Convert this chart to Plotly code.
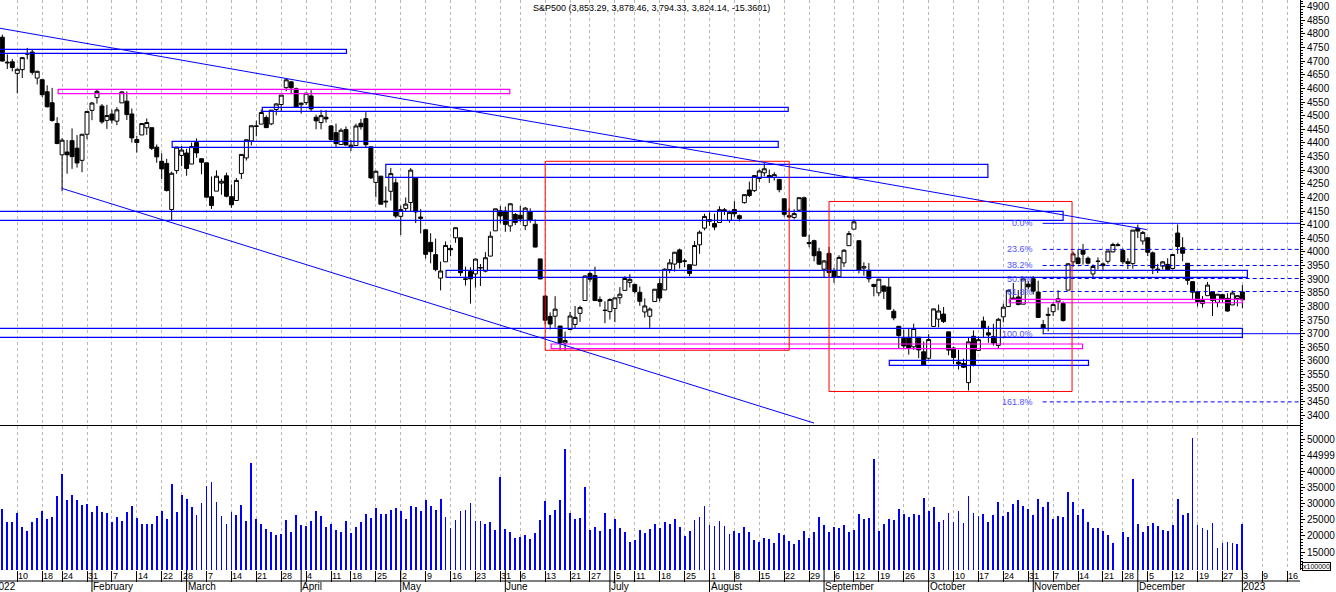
import numpy as np
import pandas as pd
import plotly.graph_objects as go

# exchange closing days inside the window
holidays = ['2022-01-17', '2022-02-21', '2022-04-15', '2022-05-30', '2022-06-20',
            '2022-07-04', '2022-09-05', '2022-11-24', '2022-12-26', '2023-01-02']
trade_days = [d for d in pd.bdate_range('2022-01-03', '2023-01-03')
              if d.strftime('%Y-%m-%d') not in holidays]
future_days = list(pd.bdate_range('2023-01-04', '2023-01-20'))

title_text = 'S&P500 (3,853.29, 3,878.46, 3,794.33, 3,824.14, -15.3601)'

# daily OHLC (Jan 2022 .. Jan 3 2023)
opens = [
    # Jan
    4778.1, 4804.5, 4788.0, 4693.4, 4697.7, 4655.3, 4669.1, 4728.6, 4733.6, 4638.0,
    4632.2, 4588.0, 4547.4, 4471.4, 4356.3, 4366.6, 4408.4, 4380.6, 4336.2, 4431.8,
    # Feb
    4519.6, 4566.4, 4535.4, 4482.8, 4505.8, 4480.0, 4547.0, 4553.2, 4506.3, 4412.6,
    4429.3, 4455.8, 4456.1, 4384.6, 4332.7, 4324.9, 4155.8, 4298.4, 4354.2,
    # Mar
    4363.1, 4322.6, 4401.3, 4342.1, 4327.0, 4202.7, 4223.1, 4252.6, 4279.5, 4202.8,
    4188.8, 4288.1, 4345.1, 4407.3, 4462.4, 4469.1, 4493.1, 4470.0, 4522.9, 4541.1,
    4602.9, 4624.2, 4599.0,
    # Apr
    4540.3, 4548.0, 4572.5, 4494.2, 4474.7, 4494.2, 4462.6, 4437.6, 4394.3, 4449.1,
    4385.6, 4390.6, 4472.3, 4489.2, 4385.8, 4255.3, 4278.1, 4186.5, 4222.6, 4253.8,
    # May
    4130.6, 4159.8, 4181.2, 4270.4, 4128.2, 4081.3, 4035.2, 3990.1, 3904.0, 3963.9,
    4013.0, 4052.0, 4052.0, 3899.0, 3927.8, 3919.4, 3942.9, 3929.6, 3984.6, 4077.4,
    4151.1,
    # Jun
    4149.8, 4095.4, 4137.6, 4134.7, 4096.5, 4147.1, 4101.7, 3974.4, 3838.2, 3763.5,
    3764.1, 3728.2, 3665.9, 3715.3, 3733.9, 3774.7, 3821.8, 3920.8, 3913.0, 3825.1,
    3786.0,
    # Jul
    3781.0, 3792.6, 3832.0, 3858.9, 3888.3, 3880.9, 3852.0, 3779.7, 3764.0, 3818.0,
    3883.8, 3860.7, 3935.3, 3955.5, 4007.5, 3965.7, 3953.2, 3951.4, 4026.1, 4087.3,
    # Aug
    4112.4, 4104.2, 4108.0, 4154.9, 4115.9, 4155.9, 4133.1, 4181.0, 4227.4, 4225.0,
    4269.4, 4290.5, 4280.4, 4273.1, 4266.3, 4195.1, 4133.1, 4126.6, 4153.3, 4198.7,
    4034.6, 4041.3, 4000.7,
    # Sep
    3936.7, 3994.7, 3930.9, 3909.4, 3959.9, 4022.9, 4083.7, 4041.3, 3940.7, 3932.4,
    3880.9, 3849.9, 3875.2, 3871.4, 3782.4, 3727.1, 3682.7, 3686.4, 3651.9, 3687.0,
    3633.5,
    # Oct
    3609.8, 3726.5, 3753.3, 3772.0, 3706.7, 3647.5, 3595.9, 3590.8, 3520.4, 3690.4,
    3638.7, 3746.3, 3703.1, 3689.1, 3657.1, 3762.0, 3799.4, 3826.0, 3834.7, 3808.3,
    3881.9,
    # Nov
    3901.8, 3852.9, 3733.3, 3767.0, 3780.7, 3817.0, 3810.9, 3859.9, 3963.7, 3978.0,
    4006.4, 3976.8, 3919.3, 3966.4, 3956.2, 3965.5, 4000.3, 4023.3, 4005.4, 3964.2,
    3957.2,
    # Dec + Jan 3
    4087.1, 4040.2, 4052.0, 3996.6, 3937.0, 3947.8, 3954.2, 3939.3, 4069.4, 4015.5,
    3958.4, 3890.9, 3853.8, 3810.5, 3839.5, 3853.3, 3815.1, 3843.3, 3829.6, 3805.5,
    3829.1, 3853.3,
]
highs = [
    4796.6, 4818.6, 4797.7, 4725.0, 4708.0, 4673.0, 4714.1, 4748.8, 4744.1, 4665.1,
    4632.2, 4611.6, 4602.1, 4494.5, 4417.4, 4411.0, 4453.2, 4428.7, 4432.7, 4516.9,
    4550.5, 4595.3, 4542.9, 4539.7, 4521.9, 4531.3, 4590.0, 4588.9, 4526.3, 4426.2,
    4472.8, 4489.6, 4456.1, 4394.6, 4362.1, 4341.5, 4294.7, 4385.3, 4388.8,
    4378.5, 4401.5, 4416.8, 4342.1, 4327.0, 4276.9, 4299.4, 4268.3, 4291.0, 4247.6,
    4271.1, 4357.9, 4412.7, 4465.4, 4481.8, 4522.0, 4501.1, 4520.6, 4546.0, 4575.7,
    4637.3, 4627.8, 4603.1,
    4548.7, 4583.5, 4593.5, 4503.9, 4521.2, 4520.4, 4464.4, 4471.0, 4453.9, 4460.5,
    4410.3, 4471.0, 4488.3, 4512.9, 4385.8, 4299.0, 4278.1, 4240.7, 4308.5, 4269.7,
    4169.8, 4200.1, 4307.7, 4270.4, 4157.7, 4081.3, 4068.8, 4049.1, 3964.8, 4038.9,
    4026.2, 4088.4, 4052.0, 3946.0, 3943.4, 3975.9, 3955.7, 3999.3, 4075.1, 4158.5,
    4168.3,
    4166.5, 4177.5, 4142.7, 4168.8, 4164.9, 4160.1, 4119.1, 3974.4, 3838.2, 3778.2,
    3837.6, 3728.2, 3707.7, 3779.7, 3801.8, 3802.6, 3913.7, 3927.7, 3945.9, 3836.5,
    3819.0,
    3829.8, 3832.2, 3870.9, 3910.6, 3918.5, 3880.9, 3873.4, 3829.4, 3796.4, 3863.6,
    3902.4, 3939.8, 3974.1, 3999.3, 4012.4, 3975.3, 3953.2, 4039.6, 4079.0, 4140.2,
    4145.0, 4140.5, 4167.7, 4161.3, 4151.6, 4186.6, 4137.3, 4211.0, 4257.9, 4280.5,
    4301.8, 4325.3, 4302.2, 4292.5, 4266.3, 4195.1, 4159.8, 4156.6, 4200.5, 4203.0,
    4063.0, 4045.0, 4015.4,
    3970.2, 4018.4, 3942.6, 3987.9, 4010.5, 4076.8, 4119.3, 4041.3, 3961.9, 3959.1,
    3880.9, 3900.5, 3876.0, 3907.1, 3790.6, 3727.1, 3715.7, 3717.5, 3736.7, 3687.0,
    3671.4,
    3698.4, 3791.9, 3806.9, 3797.9, 3706.7, 3652.2, 3640.7, 3608.3, 3685.4, 3712.0,
    3689.7, 3762.8, 3728.6, 3736.0, 3757.9, 3810.7, 3862.9, 3886.2, 3860.0, 3905.4,
    3893.7,
    3911.8, 3894.4, 3750.6, 3796.3, 3814.0, 3859.4, 3818.2, 3959.1, 4001.5, 4009.0,
    4028.8, 3983.1, 3954.3, 3979.9, 3962.0, 4003.5, 4033.8, 4034.0, 4012.3, 3976.8,
    4080.1,
    4100.5, 4076.8, 4052.5, 4001.5, 3956.4, 3966.7, 3977.0, 3990.7, 4101.0, 4053.8,
    3958.4, 3890.9, 3854.9, 3838.2, 3889.8, 3853.3, 3845.8, 3846.7, 3848.3, 3858.2,
    3839.9, 3878.5,
]
lows = [
    4758.2, 4774.3, 4699.4, 4671.3, 4662.7, 4582.2, 4638.3, 4706.7, 4650.3, 4614.8,
    4568.7, 4530.2, 4478.0, 4395.3, 4222.6, 4287.1, 4304.8, 4309.5, 4292.5, 4414.0,
    4483.5, 4544.3, 4470.4, 4451.5, 4471.5, 4465.4, 4547.0, 4484.3, 4401.4, 4364.8,
    4429.3, 4429.7, 4373.8, 4327.2, 4267.1, 4221.5, 4114.7, 4286.8, 4315.1,
    4279.5, 4322.6, 4345.6, 4285.0, 4199.9, 4157.9, 4223.1, 4209.8, 4200.5, 4161.7,
    4187.9, 4267.9, 4335.7, 4390.6, 4424.3, 4469.1, 4455.8, 4465.2, 4501.1, 4517.7,
    4589.7, 4581.3, 4530.4,
    4507.6, 4539.2, 4514.2, 4450.0, 4450.3, 4474.6, 4408.4, 4381.3, 4392.7, 4390.8,
    4370.3, 4390.6, 4448.8, 4384.5, 4267.6, 4200.8, 4175.0, 4162.9, 4188.6, 4124.3,
    4062.5, 4147.1, 4148.9, 4106.0, 4067.9, 3975.5, 3958.2, 3928.8, 3858.9, 3963.9,
    3984.0, 4033.7, 3911.9, 3876.6, 3810.3, 3869.0, 3875.1, 3925.0, 3984.6, 4077.4,
    4104.9,
    4073.9, 4074.4, 4098.7, 4109.2, 4080.2, 4107.2, 4017.2, 3900.2, 3734.3, 3715.3,
    3722.3, 3639.8, 3636.9, 3715.3, 3717.7, 3743.5, 3821.8, 3889.7, 3820.1, 3799.0,
    3738.7,
    3752.1, 3742.1, 3809.4, 3858.9, 3869.3, 3847.2, 3802.4, 3759.1, 3721.6, 3817.2,
    3818.6, 3860.7, 3922.0, 3927.6, 3938.9, 3943.5, 3910.7, 3951.4, 3993.0, 4079.2,
    4096.0, 4079.8, 4108.0, 4135.4, 4107.3, 4129.0, 4112.1, 4177.3, 4201.4, 4219.8,
    4256.9, 4277.8, 4253.1, 4262.0, 4218.7, 4129.9, 4124.0, 4120.0, 4147.6, 4057.7,
    4017.4, 3965.2, 3954.5,
    3903.7, 3906.2, 3886.8, 3906.0, 3944.8, 4022.9, 4083.7, 3921.2, 3913.0, 3888.3,
    3837.1, 3838.5, 3827.5, 3789.5, 3749.3, 3647.5, 3644.8, 3623.3, 3640.6, 3610.4,
    3584.1,
    3604.9, 3726.5, 3722.7, 3739.2, 3620.7, 3588.1, 3568.5, 3573.9, 3491.6, 3579.7,
    3638.7, 3686.5, 3666.5, 3656.2, 3647.4, 3741.7, 3799.4, 3824.1, 3803.8, 3808.3,
    3863.2,
    3843.8, 3758.7, 3698.2, 3708.8, 3764.7, 3786.3, 3744.2, 3859.9, 3944.8, 3956.4,
    3953.2, 3954.3, 3906.5, 3936.0, 3933.3, 3956.9, 3998.7, 4020.8, 3955.8, 3937.7,
    3938.6,
    4050.9, 4026.6, 3984.5, 3918.4, 3922.7, 3935.8, 3933.0, 3935.3, 3993.0, 3965.7,
    3879.5, 3827.9, 3800.0, 3795.6, 3839.5, 3764.5, 3797.0, 3813.2, 3780.8, 3805.5,
    3800.3, 3794.3,
]
closes = [
    4796.6, 4793.5, 4700.6, 4696.1, 4677.0, 4670.3, 4713.1, 4726.4, 4659.0, 4662.9,
    4577.1, 4532.8, 4482.7, 4397.9, 4410.1, 4356.5, 4349.9, 4326.5, 4431.9, 4515.6,
    4546.5, 4589.4, 4477.4, 4500.5, 4483.9, 4521.5, 4587.2, 4504.1, 4418.6, 4401.7,
    4471.1, 4475.0, 4380.3, 4348.9, 4304.8, 4225.5, 4288.7, 4384.7, 4373.9,
    4306.3, 4386.5, 4363.5, 4328.9, 4201.1, 4170.7, 4277.9, 4259.5, 4204.3, 4173.1,
    4262.5, 4357.9, 4411.7, 4463.1, 4461.2, 4511.6, 4456.2, 4520.2, 4543.1, 4575.5,
    4631.6, 4602.5, 4530.4,
    4545.9, 4582.6, 4525.1, 4481.2, 4500.2, 4488.3, 4412.5, 4397.5, 4446.6, 4392.6,
    4391.7, 4462.2, 4459.5, 4393.7, 4271.8, 4296.1, 4175.2, 4184.0, 4287.5, 4131.9,
    4155.4, 4175.5, 4300.2, 4146.9, 4123.3, 3991.2, 4001.1, 3935.2, 3930.1, 4023.9,
    4008.0, 4088.9, 3923.7, 3900.8, 3901.4, 3973.8, 3941.5, 3978.7, 4057.8, 4158.2,
    4132.2,
    4101.2, 4176.8, 4108.5, 4121.4, 4160.7, 4115.8, 4017.8, 3900.9, 3749.6, 3735.5,
    3790.0, 3666.8, 3674.8, 3764.8, 3759.9, 3795.7, 3911.7, 3900.1, 3821.6, 3818.8,
    3785.4,
    3825.3, 3831.4, 3845.1, 3902.6, 3899.4, 3854.4, 3818.8, 3801.8, 3790.4, 3863.2,
    3830.9, 3936.7, 3959.9, 3999.0, 3961.6, 3966.8, 3921.1, 4023.6, 4072.4, 4130.3,
    4118.6, 4091.2, 4155.2, 4151.9, 4145.2, 4140.1, 4122.5, 4210.2, 4207.3, 4280.2,
    4297.1, 4305.2, 4274.0, 4283.7, 4228.5, 4138.0, 4128.7, 4140.8, 4199.1, 4057.7,
    4030.6, 3986.2, 3955.0,
    3966.9, 3924.3, 3908.2, 3979.9, 4006.2, 4067.4, 4110.4, 3932.7, 3946.0, 3901.4,
    3873.3, 3899.9, 3855.9, 3789.9, 3758.0, 3693.2, 3655.0, 3647.3, 3719.0, 3640.5,
    3585.6,
    3678.4, 3790.9, 3783.3, 3744.5, 3639.7, 3612.4, 3588.8, 3577.0, 3669.9, 3583.1,
    3678.0, 3720.0, 3695.2, 3665.8, 3752.8, 3797.3, 3859.1, 3830.6, 3807.3, 3901.1,
    3872.0,
    3856.1, 3759.7, 3719.9, 3770.6, 3806.8, 3828.1, 3748.6, 3956.4, 3992.9, 3957.3,
    3991.7, 3958.8, 3946.6, 3965.3, 3949.9, 4003.6, 4027.3, 4026.1, 3963.9, 3957.6,
    4080.1,
    4076.6, 4071.7, 3998.8, 3941.3, 3933.9, 3963.5, 3934.4, 3990.6, 4019.7, 3995.3,
    3895.8, 3852.4, 3817.7, 3821.6, 3878.4, 3822.4, 3844.8, 3829.3, 3783.2, 3849.3,
    3839.5, 3824.1,
]
# volume in units of x100000
volumes = [
    29000, 33000, 28300, 24300, 24300, 27100, 22800, 21500, 24300, 25500,
    27700, 25200, 25900, 32400, 39200, 31100, 32700, 31100, 29600, 29900,
    27400, 29300, 27400, 27100, 24300, 25900, 24600, 27400, 29300, 25500,
    23700, 23700, 23700, 26200, 27700, 25200, 36100, 27400, 32700,
    31400, 28900, 26500, 30200, 35400, 36700, 30500, 26200, 23700, 27400,
    26500, 29600, 24600, 42600, 25200, 23700, 22100, 21200, 20300, 20600,
    24900, 21200, 26500,
    23400, 23100, 24600, 27700, 26200, 22800, 23700, 21800, 21200, 24600,
    20900, 22800, 24300, 26800, 25500, 28600, 26800, 26800, 28000, 28600,
    27700, 25200, 29300, 28900, 27700, 31100, 29300, 28000, 31400, 25900,
    22400, 24900, 27700, 28000, 30200, 24600, 24600, 23700, 24300, 21800,
    38200,
    22100, 21200, 19300, 19700, 20300, 19000, 20900, 24900, 30800, 26500,
    28000, 31100, 46900, 27100, 25200, 25500, 35100, 21800, 22800, 21500,
    27100,
    22100, 25200, 22400, 21200, 18100, 18700, 21800, 20900, 22100, 23700,
    22400, 24300, 23700, 25200, 22800, 20000, 21500, 24900, 25900, 29300,
    23400, 23100, 24600, 23100, 20600, 21500, 20900, 22800, 21200, 18700,
    18100, 19300, 19000, 17800, 20900, 20300, 18400, 17500, 18700, 21500,
    19300, 21200, 25900,
    23400, 21200, 22800, 22400, 23400, 21200, 21800, 26800, 25200, 25500,
    43800, 21500, 23700, 25200, 24900, 28300, 26800, 25900, 26800, 26500,
    31700,
    27700, 28900, 24300, 24900, 27100, 24300, 27700, 24000, 32400, 27100,
    26200, 26800, 24300, 26500, 30500, 26200, 27400, 29900, 31100, 29300,
    28300,
    26500, 31400, 28900, 30500, 25200, 26200, 25900, 33600, 30500, 26500,
    28300, 24300, 22400, 22400, 21500, 20300, 17800, 8000, 21200, 19700,
    37600,
    23700, 21200, 23100, 24000, 23100, 21800, 21500, 23400, 31400, 26500,
    27100, 50300, 23400, 22400, 21800, 24000, 16300, 17800, 18100, 17800,
    17500, 23700,
]

# drawings, in (start bar, end bar, low, high)
blue_boxes = [(-3, 71.1, 4729.0, 4743.7), (54.2, 159.8, 4516.1, 4530.8),
              (36.1, 157.8, 4384.0, 4406.1), (79.0, 199.9, 4273.9, 4321.7),
              (-3, 215.0, 4116.1, 4149.2), (91.1, 252.0, 3907.0, 3932.7),
              (-3, 251.0, 3686.8, 3719.8), (180.1, 220.1, 3584.0, 3602.4)]
pink_boxes = [(13.2, 103.9, 4580.7, 4596.9), (112.2, 218.9, 3645.0, 3662.2),
              (204.2, 251.0, 3813.6, 3826.2)]
red_boxes = [(111.0, 160.0, 3639.1, 4332.7), (168.0, 216.8, 3487.9, 4185.2)]
# trend lines (bar0, price0, bar1, price1)
trend_lines = [(1.5, 4821.0, 231.8, 4082.0), (13.9, 4233.6, 165.0, 3372.0)]
fib_high, fib_low = 4105.0, 3700.0
fib_ratios = [0.0, 0.236, 0.382, 0.5, 0.618, 1.0, 1.618]
fib_start = 210.9

month_names = ['January', 'February', 'March', 'April', 'May', 'June', 'July',
               'August', 'September', 'October', 'November', 'December']

n = len(trade_days)
assert n == len(opens) == len(highs) == len(lows) == len(closes) == len(volumes)
idx = np.arange(n)
all_days = trade_days + future_days

X0, X1 = 1.53, 262.57
PLOT_H = 570.0
FONT = 'Liberation Sans, Arial, sans-serif'

week_pos, week_txt = [], []
month_pos, month_txt = [], []
prev_wk, prev_m = None, None
for i, d in enumerate(all_days):
    wk = d.isocalendar()[:2]
    if wk != prev_wk:
        week_pos.append(i)
        week_txt.append(str(d.day))
    prev_wk = wk
    m = (d.year, d.month)
    if m != prev_m:
        month_pos.append(i)
        month_txt.append(str(d.year) if d.month == 1 else month_names[d.month - 1])
    prev_m = m

fig = go.Figure()
fig.add_trace(go.Candlestick(
    x=idx, open=opens, high=highs, low=lows, close=closes,
    increasing=dict(line=dict(color='black', width=1), fillcolor='white'),
    decreasing=dict(line=dict(color='black', width=1), fillcolor='black'),
    whiskerwidth=0, xaxis='x', yaxis='y', hoverinfo='skip', showlegend=False))
fig.add_trace(go.Bar(
    x=idx, y=volumes, width=0.17, marker=dict(color='#0000ff', line=dict(width=0)),
    xaxis='x2', yaxis='y2', hoverinfo='skip', showlegend=False))

shapes = []
for x0, x1, lo, hi in blue_boxes:
    shapes.append(dict(type='rect', xref='x', yref='y', x0=x0, x1=x1, y0=lo, y1=hi,
                       line=dict(color='#0000ff', width=1.2)))
for x0, x1, lo, hi in pink_boxes:
    shapes.append(dict(type='rect', xref='x', yref='y', x0=x0, x1=x1, y0=lo, y1=hi,
                       line=dict(color='#ff00ff', width=1.2)))
for x0, x1, lo, hi in red_boxes:
    shapes.append(dict(type='rect', xref='x', yref='y', x0=x0, x1=x1, y0=lo, y1=hi,
                       line=dict(color='#ff0000', width=1)))
for x0, p0, x1, p1 in trend_lines:
    shapes.append(dict(type='line', xref='x', yref='y', x0=x0, x1=x1, y0=p0, y1=p1,
                       line=dict(color='#0000ff', width=1)))

annotations = []
for r in fib_ratios:
    lvl = fib_high - r * (fib_high - fib_low)
    solid = r in (0.0, 1.0)
    shapes.append(dict(type='line', xref='x', yref='y', x0=fib_start, x1=X1 + 2,
                       y0=lvl, y1=lvl,
                       line=dict(color='#0000ff', width=1,
                                 dash='solid' if solid else '4px,3px')))
    annotations.append(dict(xref='x', yref='y', x=fib_start - 1.5, y=lvl,
                            text='%.1f%%' % (r * 100), showarrow=False,
                            xanchor='right', yanchor='middle',
                            font=dict(family=FONT, size=9, color='#5252ff')))

# date band under the volume panel
for p, t in zip(week_pos, week_txt):
    if X0 < p < X1 - 2:
        annotations.append(dict(xref='x2', yref='paper', x=p, y=-5.5 / PLOT_H, text=t,
                                showarrow=False, xanchor='left', yanchor='middle',
                                xshift=-1, font=dict(family=FONT, size=9, color='black')))
for p, t in zip(month_pos, month_txt):
    lab = dict(yref='paper', y=-16.5 / PLOT_H, text=t, showarrow=False,
               xanchor='left', yanchor='middle', xshift=-1,
               font=dict(family=FONT, size=10, color='black'))
    if p < X0:
        # first month starts left of the visible range; place it on paper coords
        lab.update(xref='paper', x=(p - X0) / (X1 - X0))
    else:
        lab.update(xref='x2', x=p)
    annotations.append(lab)
    if X0 < p < X1:
        shapes.append(dict(type='line', xref='x2', yref='paper', x0=p, x1=p,
                           y0=0, y1=-22 / PLOT_H, line=dict(color='black', width=1)))
shapes.append(dict(type='line', xref='paper', yref='paper', x0=0, x1=1,
                   y0=-11 / PLOT_H, y1=-11 / PLOT_H, line=dict(color='black', width=1)))

annotations.append(dict(xref='paper', yref='paper', x=0.5015, y=1, yshift=-1,
                        text=title_text, showarrow=False, xanchor='center',
                        yanchor='top', font=dict(family=FONT, size=9, color='black')))
annotations.append(dict(xref='paper', yref='paper', x=1.0015, y=4 / PLOT_H,
                        text='x100000', showarrow=False, xanchor='left',
                        yanchor='middle', borderwidth=1, bordercolor='black',
                        borderpad=0, font=dict(family=FONT, size=7, color='black')))

xcommon = dict(range=[X0, X1], tickmode='array', tickvals=week_pos,
               showgrid=True, gridcolor='#b8b8b8', griddash='3px,3px', gridwidth=1,
               zeroline=False, showticklabels=False)
ycommon = dict(side='right', showgrid=False, zeroline=False, showline=True,
               linecolor='black', linewidth=1, ticks='outside', ticklen=4,
               tickcolor='black', tickfont=dict(family=FONT, size=10, color='black'))

vol_ticks = list(range(15000, 50001, 5000))
vol_text = ['44999' if v == 45000 else str(v) for v in vol_ticks]

fig.update_layout(
    width=1336, height=592,
    margin=dict(l=0, r=36, t=0, b=22),
    paper_bgcolor='white', plot_bgcolor='white',
    boxgap=0.12, boxgroupgap=0.1,
    bargap=0,
    xaxis=dict(xcommon, domain=[0, 1], anchor='y', matches='x2', ticks='',
               showline=True, linecolor='black', linewidth=1,
               rangeslider=dict(visible=False)),
    xaxis2=dict(xcommon, domain=[0, 1], anchor='y2', ticks='outside', ticklen=11,
                tickcolor='black', showline=False),
    yaxis=dict(ycommon, domain=[145 / PLOT_H, 1], anchor='x', range=[3364.9, 4924.6],
               tickmode='array', tickvals=list(range(3400, 4901, 50)),
               minor=dict(dtick=10, tick0=3400, ticklen=2, ticks='outside',
                          tickcolor='black')),
    yaxis2=dict(ycommon, domain=[0, 144 / PLOT_H], anchor='x2', range=[9443, 54025],
                tickmode='array', tickvals=vol_ticks, ticktext=vol_text,
                minor=dict(dtick=1000, tick0=0, ticklen=2, ticks='outside',
                           tickcolor='black')),
    shapes=shapes,
    annotations=annotations,
)

# the page's default body margin would push the fixed-size figure off the window
fig.write_html('out.html', config={'displayModeBar': False},
               post_script="document.body.style.margin='0';")
